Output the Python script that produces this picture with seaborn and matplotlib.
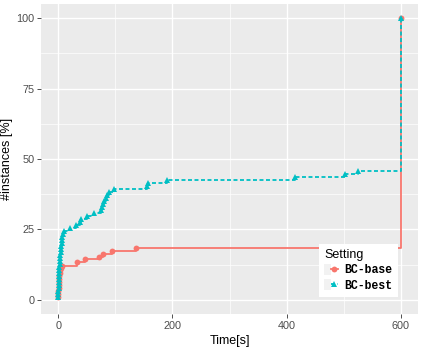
import numpy as np
import pandas as pd
import matplotlib
matplotlib.use("Agg")
import matplotlib.pyplot as plt
import seaborn as sns
from matplotlib.lines import Line2D
from matplotlib.patches import Rectangle
from matplotlib.legend_handler import HandlerTuple

# ---- data ----
base_time = [0.2, 0.4, 0.6, 0.8, 1.0, 1.2, 1.5, 1.9, 2.4, 3.0, 4.5, 7, 33, 47, 72, 78, 95, 137, 600]
base_pct = [1.1, 2.1, 3.2, 4.3, 5.3, 6.4, 7.4, 8.5, 9.6, 10.6, 11.5, 12.2, 13.3, 14.4, 15.3, 16.4, 17.5, 18.5, 100]

best_time = [0.2, 0.4, 0.6, 0.8, 1.0, 1.1, 1.3, 1.5, 1.7, 2.0, 2.3, 2.6, 3.0, 3.4, 3.8, 4.3, 4.8,
             5.4, 6.0, 6.7, 7.5, 8.5, 10.5, 21, 31, 38, 40, 50, 62, 75, 76, 78, 80, 83, 85, 89,
             98, 155, 157, 190, 415, 502, 525, 600]
best_pct = [1.1, 2.1, 3.2, 4.3, 5.3, 6.4, 7.4, 8.5, 9.6, 10.6, 11.7, 12.8, 13.8, 14.9, 16.0, 17.0, 18.1,
            19.1, 20.2, 21.3, 22.3, 23.4, 24.5, 25.5, 26.6, 27.7, 28.7, 29.8, 30.9, 31.9, 33.0, 34.0, 35.1,
            36.2, 37.2, 38.3, 39.4, 40.4, 41.5, 42.6, 43.6, 44.7, 45.7, 100]

settings = ["BC-base", "BC-best"]
colors = ["#F8766D", "#00BFC4"]
x_ticks = [0, 200, 400, 600]
y_ticks = [0, 25, 50, 75, 100]

df = pd.DataFrame({
    "time": base_time + best_time,
    "pct": base_pct + best_pct,
    "Setting": [settings[0]] * len(base_time) + [settings[1]] * len(best_time),
})

plt.rcParams["font.family"] = ["Liberation Sans", "DejaVu Sans"]

# ---- figure ----
fig = plt.figure(figsize=(4.23, 3.47), dpi=100)
ax = fig.add_axes([41 / 423, 1 - 314 / 347, (418 - 41) / 423, (314 - 4) / 347])
ax.set_facecolor("#EBEBEB")

sns.lineplot(data=df, x="time", y="pct", hue="Setting", style="Setting",
             palette=dict(zip(settings, colors)),
             markers={settings[0]: "o", settings[1]: "^"},
             dashes={settings[0]: "", settings[1]: (2.2, 1.4)},
             drawstyle="steps-post", estimator=None, sort=True,
             linewidth=1.3, markersize=4.2, markeredgewidth=0,
             ax=ax, legend=False)

ax.set_xlim(-30, 630)
ax.set_ylim(-5, 105)
ax.set_xticks(x_ticks)
ax.set_yticks(y_ticks)
ax.set_xticks([100, 300, 500], minor=True)
ax.set_yticks([12.5, 37.5, 62.5, 87.5], minor=True)
ax.grid(which="major", color="white", linewidth=1.0)
ax.grid(which="minor", color="white", linewidth=0.5)
ax.set_axisbelow(True)
for s in ax.spines.values():
    s.set_visible(False)
ax.tick_params(which="major", length=2.8, width=0.6, color="#333333",
               labelsize=7.8, labelcolor="#4D4D4D", pad=2)
ax.tick_params(which="minor", length=0)
ax.set_xlabel("Time[s]", fontsize=9, color="black", labelpad=3)
ax.set_ylabel("#instances [%]", fontsize=9, color="black", labelpad=2)

bg = lambda: Rectangle((0, 0), 1, 1, facecolor="#F2F2F2", edgecolor="none")
handles = [
    (bg(), Line2D([], [], color=colors[0], marker="o", linestyle="-", lw=1.3,
                  markersize=4.2, markeredgewidth=0)),
    (bg(), Line2D([], [], color=colors[1], marker="^", linestyle=(0, (2.2, 1.4)), lw=1.3,
                  markersize=4.2, markeredgewidth=0)),
]
leg = ax.legend(handles, settings, title="Setting", loc="lower right",
                bbox_to_anchor=(0.947, 0.055), borderaxespad=0,
                handler_map={tuple: HandlerTuple(ndivide=None, pad=0)},
                frameon=True, fancybox=False, framealpha=1,
                handlelength=1.2, handleheight=1.1, handletextpad=0.6,
                borderpad=0.45, labelspacing=0.25,
                prop={"family": "Liberation Mono", "weight": "bold", "size": 8.3},
                title_fontsize=9, alignment="left")
leg.get_frame().set_edgecolor("white")
leg.get_frame().set_linewidth(0)

fig.savefig("out.png", dpi=100)
